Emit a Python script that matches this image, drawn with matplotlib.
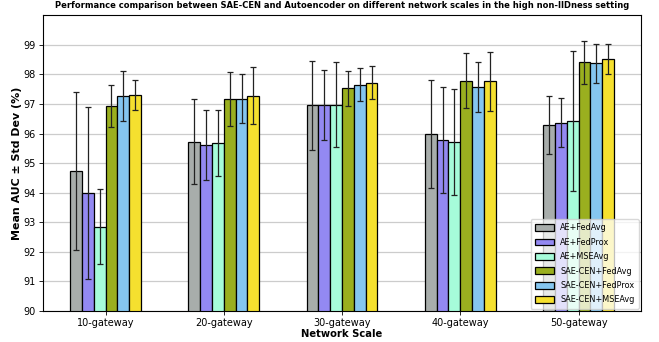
import matplotlib
matplotlib.use("Agg")
import matplotlib.pyplot as plt
import numpy as np

scales = ["10-gateway", "20-gateway", "30-gateway", "40-gateway", "50-gateway"]
methods = ["AE+FedAvg", "AE+FedProx", "AE+MSEAvg",
           "SAE-CEN+FedAvg", "SAE-CEN+FedProx", "SAE-CEN+MSEAvg"]

# mean AUC (%) per method, one value per network scale
ae_fedavg_mean = [94.74, 95.72, 96.95, 95.98, 96.29]
ae_fedprox_mean = [93.98, 95.60, 96.96, 95.77, 96.37]
ae_mseavg_mean = [92.85, 95.67, 96.98, 95.71, 96.42]
sae_fedavg_mean = [96.93, 97.16, 97.53, 97.79, 98.41]
sae_fedprox_mean = [97.28, 97.18, 97.65, 97.57, 98.37]
sae_mseavg_mean = [97.30, 97.28, 97.72, 97.76, 98.51]

# standard deviation (%)
ae_fedavg_std = [2.68, 1.43, 1.50, 1.83, 0.98]
ae_fedprox_std = [2.90, 1.18, 1.19, 1.79, 0.84]
ae_mseavg_std = [1.27, 1.11, 1.43, 1.80, 2.38]
sae_fedavg_std = [0.72, 0.91, 0.60, 0.94, 0.72]
sae_fedprox_std = [0.84, 0.83, 0.55, 0.85, 0.66]
sae_mseavg_std = [0.50, 0.96, 0.56, 1.00, 0.50]

means = [ae_fedavg_mean, ae_fedprox_mean, ae_mseavg_mean,
         sae_fedavg_mean, sae_fedprox_mean, sae_mseavg_mean]
stds = [ae_fedavg_std, ae_fedprox_std, ae_mseavg_std,
        sae_fedavg_std, sae_fedprox_std, sae_mseavg_std]
colors = ["#a8adab", "#9389f2", "#a6fcda", "#9aaf1f", "#85c6f0", "#f5e02f"]

plt.rcParams["font.family"] = "DejaVu Sans"

fig = plt.figure(figsize=(6.59, 3.42), dpi=100)
ax = fig.add_axes([0.065, 0.0906, 0.908, 0.865])

x = np.arange(len(scales))
width = 0.1
for i, (m, s, c, lab) in enumerate(zip(means, stds, colors, methods)):
    ax.bar(x + (i - 2.5) * width, m, width, yerr=s, color=c, edgecolor="black",
           linewidth=0.9, label=lab, capsize=2,
           error_kw=dict(elinewidth=0.9, capthick=0.9, ecolor="#222222"), zorder=2)

ax.set_ylim(90, 100)
ax.set_yticks(np.arange(90, 100, 1))
ax.set_xticks(x)
ax.set_xticklabels(scales)
ax.tick_params(labelsize=7, length=3, width=0.6, pad=2)
ax.yaxis.grid(True, color="#cccccc", linewidth=0.9, zorder=0)
ax.set_axisbelow(True)
for sp in ax.spines.values():
    sp.set_linewidth(0.8)

ax.set_xlabel("Network Scale", fontsize=7.2, fontweight="bold", labelpad=1)
ax.set_ylabel("Mean AUC \u00b1 Std Dev (%)", fontsize=7.9, fontweight="bold", labelpad=1)
ax.set_title("Performance comparison between SAE-CEN and Autoencoder on different network scales in the high non-IIDness setting",
             fontsize=6.05, fontweight="bold", pad=5)

leg = ax.legend(loc="lower right", fontsize=5.9, framealpha=0.75,
                handlelength=2.3, handleheight=0.9, labelspacing=0.66,
                borderpad=0.5, fancybox=True, borderaxespad=0.3)

fig.savefig("out.png", dpi=100)
